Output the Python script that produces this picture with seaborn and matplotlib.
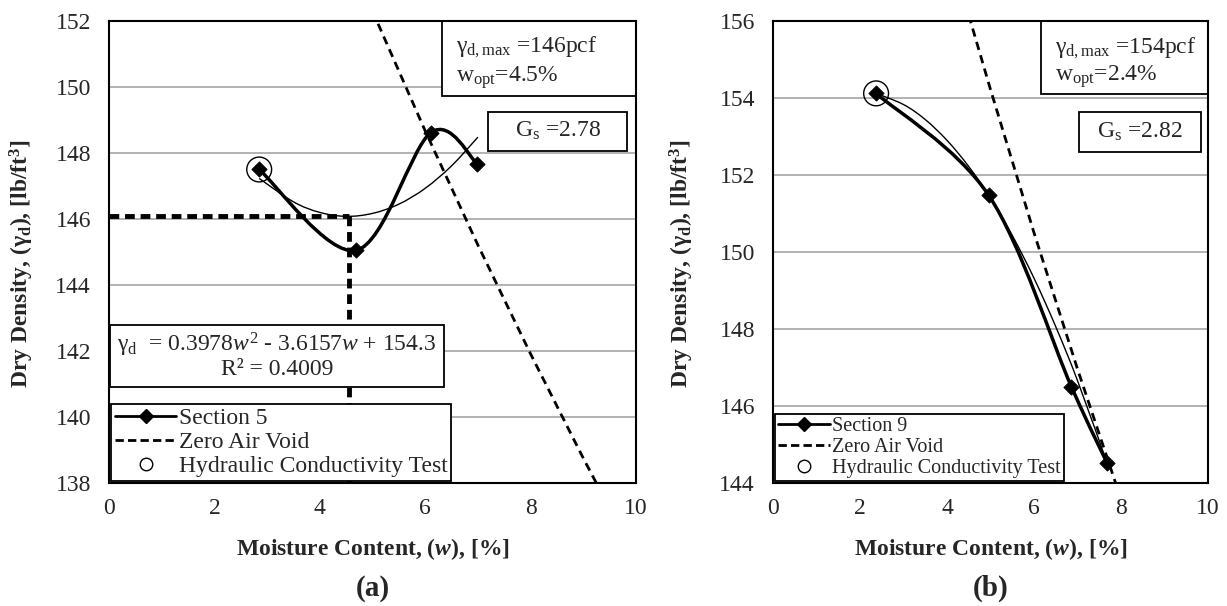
import numpy as np
import matplotlib
matplotlib.use("Agg")
import matplotlib.pyplot as plt
import seaborn as sns
from matplotlib.path import Path
from matplotlib.patches import PathPatch, Rectangle
from matplotlib.lines import Line2D

# === Data ===
# (a) Section 5
w_s5 = [2.85, 4.69, 6.11, 6.99]
gd_s5 = [147.50, 145.05, 148.62, 147.67]
# Excel polynomial trendline (a): 0.3978w^2 - 3.6157w + 154.3
w_tr5 = [2.85, 3.5, 4.0, 4.5, 5.0, 5.5, 6.0, 6.5, 7.0]
gd_tr5 = [147.23, 146.52, 146.20, 146.08, 146.17, 146.45, 146.93, 147.61, 148.48]
# zero air void (Gs = 2.78)
w_zav5 = [5.0, 6.0, 7.0, 8.0, 9.0, 9.5]
gd_zav5 = [152.30, 148.67, 145.21, 141.91, 138.75, 137.23]
w_opt5 = 4.55
gd_max5 = 146.08

# (b) Section 9
w_s9 = [2.37, 4.96, 6.86, 7.68]
gd_s9 = [154.12, 151.47, 146.50, 144.52]
w_tr9 = [2.37, 3.0, 3.5, 4.0, 4.5, 5.0, 5.5, 6.0, 6.5, 7.0, 7.68]
gd_tr9 = [154.12, 153.83, 153.44, 152.90, 152.22, 151.40, 150.43, 149.32, 148.06, 146.66, 144.52]
# zero air void (Gs = 2.82)
w_zav9 = [4.5, 5.0, 6.0, 7.0, 8.0]
gd_zav9 = [156.15, 154.22, 150.50, 146.96, 143.58]

x_ticks = [0, 2, 4, 6, 8, 10]
y_ticks_a = [138, 140, 142, 144, 146, 148, 150, 152]
y_ticks_b = [144, 146, 148, 150, 152, 154, 156]

FS = 17

# === Style ===
sns.set_style("white")
plt.rcParams["font.family"] = ["Liberation Serif", "DejaVu Serif"]
plt.rcParams["mathtext.fontset"] = "custom"
plt.rcParams["mathtext.rm"] = "Liberation Serif"
plt.rcParams["mathtext.it"] = "Liberation Serif:italic"
plt.rcParams["mathtext.bf"] = "Liberation Serif:bold"
plt.rcParams["mathtext.bfit"] = "Liberation Serif:bold:italic"


def smooth_path(x, y):
    # Excel-like smoothed scatter line (cubic Bezier through the points)
    pts = np.column_stack([x, y])
    n = len(pts)
    verts, codes = [pts[0]], [Path.MOVETO]
    for i in range(n - 1):
        p0, p1 = pts[max(i - 1, 0)], pts[i]
        p2, p3 = pts[i + 1], pts[min(i + 2, n - 1)]
        verts += [p1 + (p2 - p0) / 6, p2 - (p3 - p1) / 6, p2]
        codes += [Path.CURVE4] * 3
    return Path(verts, codes)


def box(ax, x0, y0, x1, y1):
    ax.add_patch(Rectangle((x0, y0), x1 - x0, y1 - y0, transform=ax.transAxes,
                           facecolor="white", edgecolor="black", lw=1.3, zorder=6))


def panel(ax, w, gd, w_tr, gd_tr, w_zav, gd_zav, yticks, label, ylab_x):
    sns.lineplot(x=w_zav, y=gd_zav, ax=ax, color="black", lw=2,
                 linestyle=(0, (3, 2)), sort=False, zorder=3)
    ax.add_patch(PathPatch(smooth_path(w_tr, gd_tr), facecolor="none",
                           edgecolor="black", lw=1, zorder=3))
    ax.add_patch(PathPatch(smooth_path(w, gd), facecolor="none",
                           edgecolor="black", lw=2.5, zorder=4))
    sns.scatterplot(x=w, y=gd, ax=ax, marker="D", s=60, color="black",
                    edgecolor="black", zorder=5)
    sns.scatterplot(x=w[:1], y=gd[:1], ax=ax, marker="o", s=320,
                    facecolor="none", edgecolor="black", linewidth=1, zorder=5)
    ax.set_xlim(0, 10)
    ax.set_ylim(yticks[0], yticks[-1])
    ax.set_xticks(x_ticks)
    ax.set_yticks(yticks)
    ax.tick_params(length=0, labelsize=FS)
    ax.tick_params(axis="y", pad=13)
    ax.tick_params(axis="x", pad=11)
    ax.yaxis.grid(True, color="#a6a6a6", lw=1.2)
    ax.xaxis.grid(False)
    for sp in ax.spines.values():
        sp.set_color("black")
        sp.set_linewidth(1.5)
        sp.set_zorder(7)
    ax.set_xlabel(r"Moisture Content, ($\mathbfit{w}$), [%]", fontsize=FS,
                  fontweight="bold", labelpad=12)
    ax.set_ylabel(r"Dry Density, (γ$_\mathbf{d}$), [lb/ft$^\mathbf{3}$]",
                  fontsize=FS, fontweight="bold")
    ax.yaxis.set_label_coords(ylab_x, 0.475)
    pos = ax.get_position()
    fig.text((pos.x0 + pos.x1) / 2, 18 / 606, label, ha="center", va="center",
             fontsize=21, fontweight="bold")


fig = plt.figure(figsize=(12.27, 6.06), dpi=100)
ax1 = fig.add_axes([109 / 1227, 123 / 606, 527 / 1227, 462 / 606])
ax2 = fig.add_axes([773 / 1227, 123 / 606, 435 / 1227, 462 / 606])

panel(ax1, w_s5, gd_s5, w_tr5, gd_tr5, w_zav5, gd_zav5, y_ticks_a, "(a)", -0.138)
panel(ax2, w_s9, gd_s9, w_tr9, gd_tr9, w_zav9, gd_zav9, y_ticks_b, "(b)", -0.176)

# optimum lines for (a)
ax1.plot([0, w_opt5], [gd_max5, gd_max5], color="black", lw=3.5,
         linestyle=(0, (2, 1.2)), zorder=4)
ax1.plot([w_opt5, w_opt5], [gd_max5, 138], color="black", lw=3.5,
         linestyle=(0, (2, 1.2)), zorder=4)

# text boxes (a)
box(ax1, 0.632, 0.838, 1.0, 1.0)
ax1.text(0.659, 0.942, r"γ$_\mathrm{d,max}$ =146pcf", transform=ax1.transAxes,
         fontsize=FS, va="center", zorder=8)
ax1.text(0.659, 0.878, r"w$_\mathrm{opt}$=4.5%", transform=ax1.transAxes,
         fontsize=FS, va="center", zorder=8)
box(ax1, 0.719, 0.719, 0.983, 0.803)
ax1.text(0.851, 0.762, r"G$_\mathrm{s}$ =2.78", transform=ax1.transAxes,
         fontsize=FS, ha="center", va="center", zorder=8)
box(ax1, 0.002, 0.208, 0.636, 0.342)
ax1.text(0.319, 0.276,
         "γ$_\\mathrm{d}$  = 0.3978$\\mathit{w}^2$ - 3.6157$\\mathit{w}$ + 154.3\nR² = 0.4009",
         transform=ax1.transAxes, fontsize=FS, ha="center", va="center",
         linespacing=1.05, zorder=8)

# text boxes (b)
box(ax2, 0.616, 0.842, 1.0, 1.0)
ax2.text(0.648, 0.940, r"γ$_\mathrm{d,max}$ =154pcf", transform=ax2.transAxes,
         fontsize=FS, va="center", zorder=8)
ax2.text(0.648, 0.880, r"w$_\mathrm{opt}$=2.4%", transform=ax2.transAxes,
         fontsize=FS, va="center", zorder=8)
box(ax2, 0.703, 0.716, 0.984, 0.803)
ax2.text(0.844, 0.760, r"G$_\mathrm{s}$ =2.82", transform=ax2.transAxes,
         fontsize=FS, ha="center", va="center", zorder=8)


def legend(ax, name, size):
    handles = [
        Line2D([], [], color="black", lw=2, marker="D", ms=7),
        Line2D([], [], color="black", lw=2, linestyle=(0, (3, 1.5))),
        Line2D([], [], color="none", marker="o", ms=9, mfc="none", mec="black"),
    ]
    leg = ax.legend(handles, [name, "Zero Air Void", "Hydraulic Conductivity Test"],
                    loc="lower left", bbox_to_anchor=(0.0, 0.0), borderaxespad=0.1,
                    fontsize=size, frameon=True, fancybox=False, framealpha=1,
                    edgecolor="black", handlelength=2.6, handletextpad=0.1,
                    borderpad=0.15, labelspacing=0.1)
    leg.get_frame().set_linewidth(1.3)
    leg.set_zorder(9)


legend(ax1, "Section 5", FS)
legend(ax2, "Section 9", 14.5)

fig.savefig("out.png", dpi=100)
